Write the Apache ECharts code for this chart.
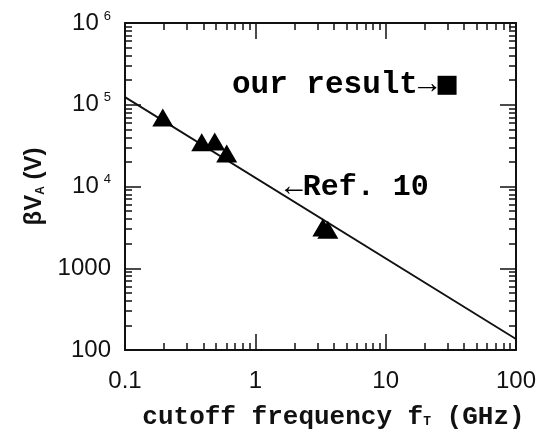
<!DOCTYPE html>
<html>
<head>
<meta charset="utf-8">
<script src="https://cdn.jsdelivr.net/npm/echarts@6/dist/echarts.min.js"></script>
<style>
html,body{margin:0;padding:0;background:#fff;}
#c{width:539px;height:435px;}
</style>
</head>
<body>
<div id="c"></div>
<script>
// ---- data ----
const xRange = [0.1, 100];
const yRange = [100, 1000000];
const xMajorTicks = [0.1, 1, 10, 100];
const xMinorTicks = [0.2,0.3,0.4,0.5,0.6,0.7,0.8,0.9, 2,3,4,5,6,7,8,9, 20,30,40,50,60,70,80,90];
const yMajorTicks = [100, 1000, 10000, 100000, 1000000];
const yMinorTicks = [200,300,400,500,600,700,800,900, 2000,3000,4000,5000,6000,7000,8000,9000,
  20000,30000,40000,50000,60000,70000,80000,90000, 200000,300000,400000,500000,600000,700000,800000,900000];
const xTickLabels = ['0.1', '1', '10', '100'];
const yTickLabels = ['100', '1000', '10^4', '10^5', '10^6'];

// Ref. 10 fit line
const lineX = [0.1, 100];
const lineY = [124000, 136];
// triangles (previous work)
const triX = [0.195, 0.388, 0.488, 0.603, 3.3, 3.6];
const triY = [70000, 34700, 35600, 25400, 3150, 2950];
// our result (square)
const sqX = [29.6];
const sqY = [173000];
// annotation anchor for "←Ref. 10"
const refLabelX = [1.68];
const refLabelY = [9700];

const zip = (a, b) => a.map((v, i) => [v, b[i]]);

const black = '#111';
const mono = '"Liberation Mono", "DejaVu Sans Mono", monospace';
const sans = '"Liberation Sans", Arial, sans-serif';

function xAx(pos, ticks, len, showLine, showLabel, extra) {
  return Object.assign({
    type: 'log', logBase: 10, position: pos, min: xRange[0], max: xRange[1],
    gridIndex: 0,
    axisLine: { show: showLine, onZero: false, lineStyle: { color: black, width: 2 } },
    axisTick: { show: true, inside: true, length: len, customValues: ticks, lineStyle: { color: black, width: 1.5 } },
    axisLabel: { show: showLabel },
    splitLine: { show: false }, minorTick: { show: false }
  }, extra || {});
}
function yAx(pos, ticks, len, showLine, showLabel, extra) {
  return Object.assign({
    type: 'log', logBase: 10, position: pos, min: yRange[0], max: yRange[1],
    gridIndex: 0,
    axisLine: { show: showLine, onZero: false, lineStyle: { color: black, width: 2 } },
    axisTick: { show: true, inside: true, length: len, customValues: ticks, lineStyle: { color: black, width: 1.5 } },
    axisLabel: { show: showLabel },
    splitLine: { show: false }, minorTick: { show: false }
  }, extra || {});
}

const chart = echarts.init(document.getElementById('c'), null, { renderer: 'canvas' });

const option = {
  backgroundColor: '#fff',
  animation: false,
  grid: { left: 125, right: 22, top: 23, bottom: 85, containLabel: false },
  xAxis: [
    xAx('bottom', xMajorTicks, 16, true, true, {
      axisLabel: {
        show: true, margin: 19, color: black, fontFamily: sans, fontSize: 24,
        customValues: xMajorTicks,
        formatter: v => xTickLabels[xMajorTicks.findIndex(t => Math.abs(Math.log10(t) - Math.log10(v)) < 1e-6)]
      },
      name: '{n|cutoff frequency f}{s|T}{n| (GHz)}',
      nameLocation: 'middle', nameGap: 54,
      nameTextStyle: {
        padding: [0, 0, 0, 26],
        rich: {
          n: { fontFamily: mono, fontWeight: 'bold', fontSize: 26, color: black },
          s: { fontFamily: mono, fontWeight: 'bold', fontSize: 13, color: black, padding: [10, 0, 0, 0] }
        }
      }
    }),
    xAx('bottom', xMinorTicks, 7, false, false),
    xAx('top', xMajorTicks, 16, true, false),
    xAx('top', xMinorTicks, 7, false, false)
  ],
  yAxis: [
    yAx('left', yMajorTicks, 16, true, true, {
      axisLabel: {
        show: true, margin: 14, color: black, fontFamily: sans, fontSize: 24,
        customValues: yMajorTicks,
        formatter: v => {
          const i = yMajorTicks.findIndex(t => Math.abs(Math.log10(t) - Math.log10(v)) < 1e-6);
          const s = yTickLabels[i];
          if (s.indexOf('^') >= 0) {
            const p = s.split('^');
            return '{b|' + p[0] + '}{s|' + p[1] + '}';
          }
          return '{b|' + s + '}';
        },
        rich: {
          b: { fontFamily: sans, fontSize: 24, color: black },
          s: { fontFamily: sans, fontSize: 13, color: black, padding: [0, 0, 14, 5] }
        }
      },
      name: '{n|βV}{s|A}{n| (V)}',
      nameLocation: 'middle', nameGap: 78, nameRotate: 90,
      nameTextStyle: {
        rich: {
          n: { fontFamily: sans, fontWeight: 'bold', fontSize: 24, color: black },
          s: { fontFamily: sans, fontWeight: 'bold', fontSize: 12, color: black, padding: [12, 0, 0, 0] }
        }
      }
    }),
    yAx('left', yMinorTicks, 7, false, false),
    yAx('right', yMajorTicks, 16, true, false),
    yAx('right', yMinorTicks, 7, false, false)
  ],
  series: [
    {
      type: 'line', xAxisIndex: 0, yAxisIndex: 0,
      data: zip(lineX, lineY), showSymbol: false, symbol: 'none',
      lineStyle: { color: black, width: 1.8 }, z: 3
    },
    {
      type: 'scatter', xAxisIndex: 0, yAxisIndex: 0,
      data: zip(triX, triY), symbol: 'triangle', symbolSize: [21, 18],
      itemStyle: { color: '#000', opacity: 1 }, z: 4
    },
    {
      type: 'scatter', xAxisIndex: 0, yAxisIndex: 0,
      data: zip(sqX, sqY), symbol: 'rect', symbolSize: 19,
      itemStyle: { color: '#000', opacity: 1 }, z: 4,
      label: {
        show: true, position: 'left', distance: 1,
        formatter: 'our result→',
        fontFamily: mono, fontWeight: 'bold', fontSize: 31, color: '#000'
      }
    },
    {
      type: 'scatter', xAxisIndex: 0, yAxisIndex: 0,
      data: zip(refLabelX, refLabelY), symbolSize: 0, silent: true,
      itemStyle: { color: '#000', opacity: 1 },
      label: {
        show: true, position: 'right', distance: 0,
        formatter: '←Ref. 10',
        fontFamily: mono, fontWeight: 'bold', fontSize: 30, color: '#000', opacity: 1
      }
    }
  ]
};
chart.setOption(option);
</script>
</body>
</html>
